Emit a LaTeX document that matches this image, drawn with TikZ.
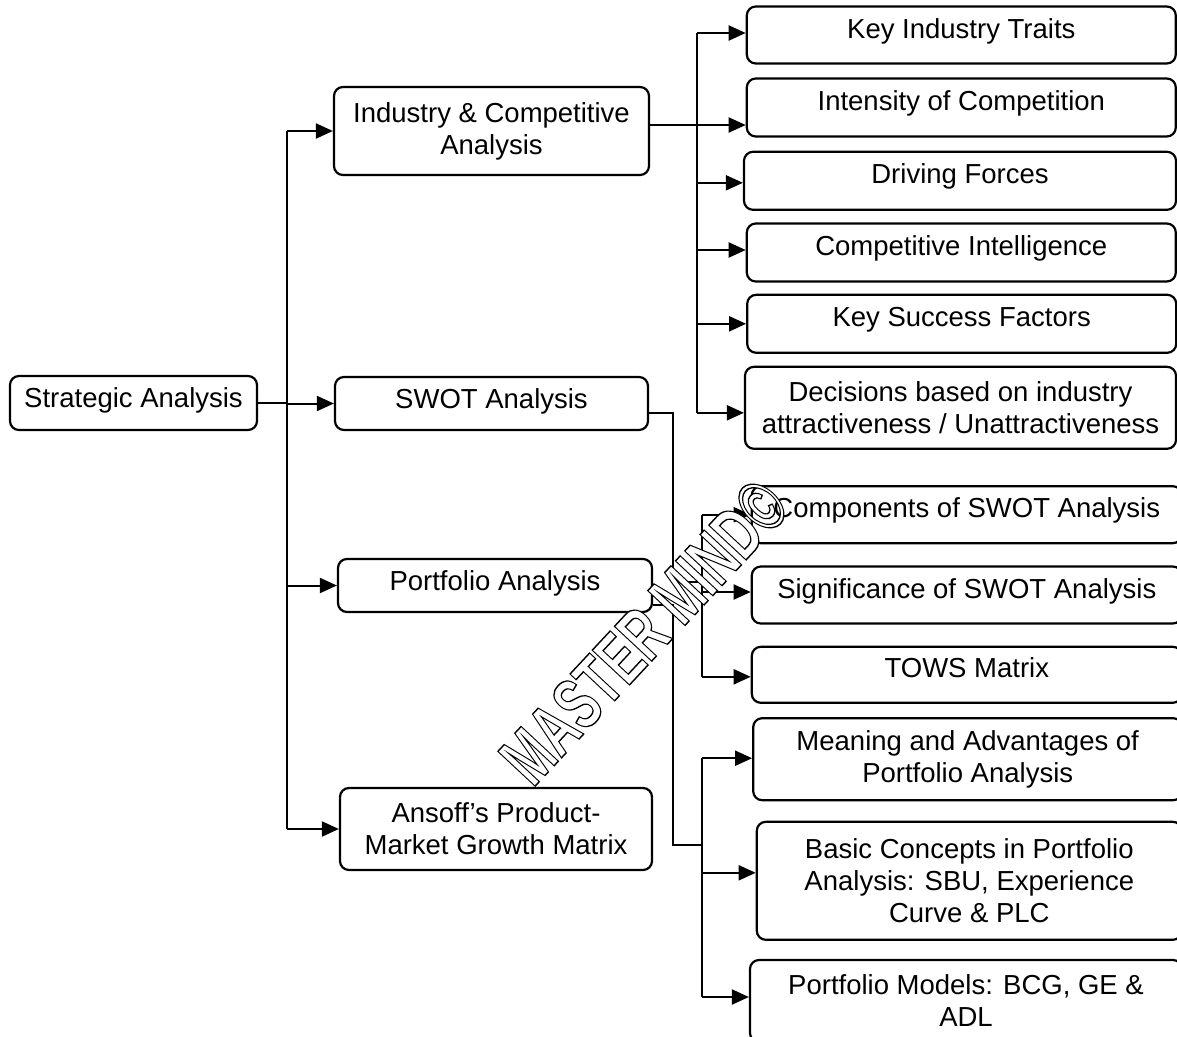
\documentclass[tikz,border=0pt]{standalone}
\usepackage{fontspec}
\setmainfont{Liberation Sans}
\usetikzlibrary{arrows.meta}
\tikzset{
  bx/.style={draw, line width=2.2pt, rounded corners=9pt, align=center, inner sep=0pt,
    font=\fontsize{27.5}{32}\selectfont},
  upa/.style={text height=20pt, text depth=11pt},
  upb/.style={text height=20pt, text depth=14pt},
  conn/.style={line width=2pt},
  arr/.style={line width=2pt, -{Triangle[length=17pt,width=15pt]}}
}
\begin{document}
\begin{tikzpicture}[x=1pt,y=-1pt]
\useasboundingbox (0,0) rectangle (1177,1036);
\clip (0,0) rectangle (1177,1036);
% left and middle column
\node[bx, upa, minimum width=247pt, minimum height=54pt] (sa) at (133.5,403) {Strategic Analysis};
\node[bx, minimum width=315pt, minimum height=88pt] (ica) at (491.5,131) {Industry \& Competitive\\Analysis};
\node[bx, upa, minimum width=313pt, minimum height=53pt] (swot) at (491.5,403.5) {SWOT Analysis};
\node[bx, upa, minimum width=314pt, minimum height=53pt] (pa) at (495,585.5) {Portfolio Analysis};
\node[bx, minimum width=312pt, minimum height=82pt] (ans) at (496,829) {Ansoff’s Product-\\Market Growth Matrix};
% right column, group 1
\node[bx, upb, minimum width=429pt, minimum height=57pt] (r1) at (961.3,35) {Key Industry Traits};
\node[bx, upb, minimum width=429pt, minimum height=58pt] (r2) at (961.3,107.5) {Intensity of Competition};
\node[bx, upb, minimum width=432pt, minimum height=58pt] (r3) at (960,180.8) {Driving Forces};
\node[bx, upb, minimum width=429pt, minimum height=58pt] (r4) at (961.3,252.5) {Competitive Intelligence};
\node[bx, upb, minimum width=429pt, minimum height=58pt] (r5) at (961.7,323.8) {Key Success Factors};
\node[bx, minimum width=431pt, minimum height=82pt] (r6) at (960.5,407.8) {Decisions based on industry\\attractiveness / Unattractiveness};
% right column, group 2
\node[bx, upb, minimum width=430pt, minimum height=57pt] (s1) at (966.8,514.7) {Components of SWOT Analysis};
\node[bx, upb, minimum width=430pt, minimum height=57pt] (s2) at (966.8,595) {Significance of SWOT Analysis};
\node[bx, upb, minimum width=430pt, minimum height=56pt] (s3) at (966.8,674.8) {TOWS Matrix};
\node[bx, minimum width=429pt, minimum height=82pt] (p1) at (967.7,759.2) {Meaning and Advantages of\\Portfolio Analysis};
\node[bx, minimum width=425pt, minimum height=118pt] (p2) at (969.3,880.8) {Basic Concepts in Portfolio\\Analysis: SBU, Experience\\Curve \& PLC};
\node[bx, minimum width=432pt, minimum height=82pt] (p3) at (966,1001) {Portfolio Models: BCG, GE \&\\ADL};
% trunk x positions
\coordinate (tx) at (287,0);
\coordinate (ux) at (697,0);
\coordinate (vx) at (672.5,0);
\coordinate (wx) at (702,0);
% main trunk
\draw[conn] (sa.east) -- (tx |- sa.east);
\draw[conn] (tx |- ica.west) -- (tx |- ans.west);
\draw[arr] (tx |- ica.west) -- (ica.west);
\draw[arr] (tx |- swot.west) -- (swot.west);
\draw[arr] (tx |- pa.west) -- (pa.west);
\draw[arr] (tx |- ans.west) -- (ans.west);
% industry branch
\coordinate (a1) at ([yshift=2pt]r1.west);
\coordinate (a2) at ([yshift=-17.5pt]r2.west);
\coordinate (a3) at ([yshift=-2pt]r3.west);
\coordinate (a4) at ([yshift=2.5pt]r4.west);
\coordinate (a5) at (r5.west);
\coordinate (a6) at ([yshift=-5pt]r6.west);
\draw[conn] ([yshift=6pt]ica.east) -- (ux |- a2);
\draw[conn] (ux |- a1) -- (ux |- a6);
\foreach \a in {a1,a2,a3,a4,a5,a6}
  \draw[arr] (ux |- \a) -- (\a);
% SWOT branch
\coordinate (b0) at ([yshift=-9pt]swot.east);
\coordinate (j1) at (702,582);
\coordinate (c1) at (s1.west);
\coordinate (c2) at ([yshift=3pt]s2.west);
\coordinate (c3) at ([yshift=-2pt]s3.west);
\draw[conn] (b0) -- (vx |- b0) -- (vx |- j1) -- (j1);
\draw[conn] (wx |- c1) -- (wx |- c3);
\foreach \a in {c1,c2,c3}
  \draw[arr] (wx |- \a) -- (\a);
% Portfolio branch
\coordinate (d0) at ([yshift=-19.5pt]pa.east);
\coordinate (j2) at (702,845);
\coordinate (e1) at ([yshift=1pt]p1.west);
\coordinate (e2) at ([yshift=8pt]p2.west);
\coordinate (e3) at ([yshift=4pt]p3.west);
\draw[conn] (d0) -- (vx |- d0) -- (vx |- j2) -- (j2);
\draw[conn] (wx |- e1) -- (wx |- e3);
\foreach \a in {e1,e2,e3}
  \draw[arr] (wx |- \a) -- (\a);
% watermark (outlined text)
\node[rotate=47, inner sep=0pt] (wm) at (644,632)
  {\scalebox{0.66}[1]{\fontsize{74}{74}\selectfont\bfseries\color{white}%
   \special{pdf:literal direct 0 G 2 Tr 1.4 w}MASTER MIND©\special{pdf:literal direct 0 Tr}}};
\end{tikzpicture}
\end{document}
